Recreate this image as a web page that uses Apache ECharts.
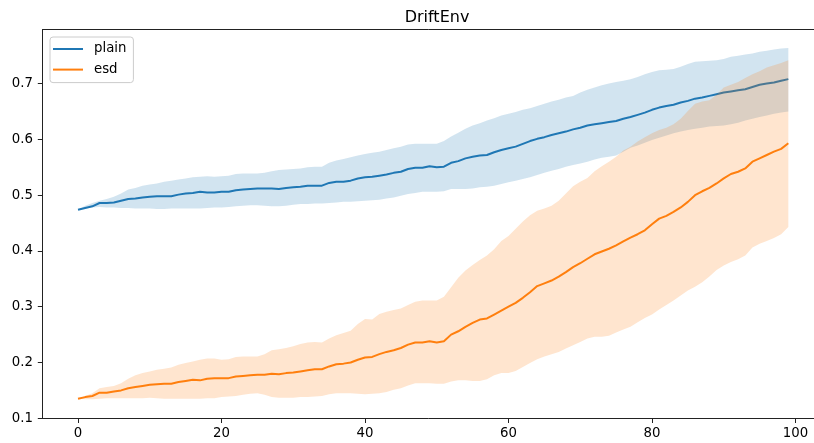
<!DOCTYPE html>
<html>
<head>
<meta charset="utf-8">
<script src="https://cdn.jsdelivr.net/npm/echarts@6/dist/echarts.min.js"></script>
<style>
html,body{margin:0;padding:0;background:#fff;}
#chart{width:814px;height:443px;}
</style>
</head>
<body>
<div id="chart"></div>
<script>
const titleText = "DriftEnv";
const seriesNames = ["plain", "esd"];
const xTicks = [0, 20, 40, 60, 80, 100];
const yTicks = [0.1, 0.2, 0.3, 0.4, 0.5, 0.6, 0.7];

const plainMean = [0.474,0.477,0.480,0.486,0.486,0.487,0.490,0.493,0.494,0.496,
0.497,0.498,0.498,0.498,0.501,0.503,0.504,0.506,0.505,0.505,
0.506,0.506,0.509,0.510,0.511,0.512,0.512,0.512,0.511,0.513,
0.514,0.515,0.517,0.517,0.517,0.522,0.524,0.524,0.526,0.530,
0.532,0.533,0.535,0.537,0.540,0.542,0.547,0.549,0.549,0.552,
0.550,0.551,0.558,0.561,0.566,0.569,0.571,0.572,0.577,0.581,
0.584,0.587,0.592,0.597,0.601,0.604,0.608,0.611,0.614,0.618,
0.621,0.625,0.627,0.629,0.631,0.633,0.637,0.640,0.644,0.648,
0.653,0.657,0.660,0.662,0.666,0.669,0.673,0.675,0.678,0.681,
0.684,0.686,0.688,0.690,0.694,0.698,0.700,0.702,0.705,0.708];

const plainUpper = [0.474,0.481,0.486,0.490,0.493,0.497,0.503,0.510,0.513,0.517,
0.519,0.521,0.524,0.526,0.528,0.530,0.532,0.533,0.534,0.533,
0.534,0.535,0.538,0.539,0.539,0.539,0.540,0.543,0.545,0.546,
0.547,0.548,0.550,0.551,0.551,0.558,0.562,0.565,0.568,0.571,
0.574,0.576,0.578,0.581,0.584,0.587,0.591,0.592,0.592,0.592,
0.592,0.597,0.605,0.612,0.619,0.625,0.629,0.634,0.638,0.643,
0.646,0.649,0.653,0.656,0.660,0.664,0.668,0.671,0.675,0.678,
0.684,0.689,0.693,0.697,0.700,0.703,0.705,0.708,0.712,0.717,
0.721,0.724,0.725,0.726,0.730,0.735,0.739,0.740,0.741,0.742,
0.744,0.748,0.750,0.752,0.754,0.757,0.759,0.761,0.763,0.764];

const plainLower = [0.474,0.476,0.478,0.479,0.478,0.478,0.477,0.477,0.476,0.476,
0.476,0.475,0.475,0.476,0.476,0.476,0.476,0.476,0.477,0.478,
0.478,0.479,0.480,0.481,0.482,0.482,0.481,0.480,0.480,0.481,
0.483,0.484,0.484,0.485,0.485,0.486,0.487,0.488,0.488,0.489,
0.490,0.491,0.492,0.494,0.496,0.499,0.502,0.504,0.506,0.506,
0.506,0.507,0.511,0.511,0.511,0.512,0.514,0.515,0.517,0.520,
0.523,0.526,0.529,0.532,0.536,0.540,0.544,0.547,0.551,0.554,
0.557,0.560,0.564,0.567,0.569,0.571,0.578,0.585,0.589,0.594,
0.599,0.603,0.607,0.611,0.614,0.617,0.619,0.621,0.623,0.624,
0.625,0.627,0.630,0.634,0.637,0.640,0.643,0.646,0.648,0.650];

const esdMean = [0.135,0.138,0.140,0.146,0.146,0.148,0.150,0.154,0.156,0.158,
0.160,0.161,0.162,0.162,0.165,0.167,0.169,0.168,0.171,0.172,
0.172,0.172,0.175,0.176,0.177,0.178,0.178,0.180,0.179,0.181,
0.182,0.184,0.186,0.188,0.188,0.193,0.197,0.198,0.200,0.205,
0.209,0.210,0.215,0.219,0.222,0.226,0.232,0.236,0.236,0.238,
0.236,0.238,0.250,0.256,0.264,0.271,0.277,0.279,0.286,0.293,
0.300,0.307,0.316,0.326,0.337,0.342,0.347,0.354,0.362,0.371,
0.378,0.386,0.394,0.399,0.404,0.410,0.417,0.424,0.430,0.437,
0.448,0.458,0.463,0.470,0.478,0.488,0.500,0.507,0.513,0.521,
0.530,0.538,0.542,0.548,0.560,0.566,0.572,0.578,0.583,0.593];

const esdUpper = [0.135,0.140,0.145,0.154,0.156,0.158,0.163,0.171,0.177,0.181,
0.184,0.187,0.189,0.191,0.196,0.199,0.202,0.205,0.207,0.207,
0.205,0.206,0.210,0.211,0.211,0.211,0.215,0.222,0.224,0.226,
0.229,0.233,0.236,0.237,0.236,0.243,0.249,0.253,0.257,0.269,
0.278,0.277,0.287,0.291,0.294,0.297,0.303,0.309,0.311,0.311,
0.311,0.318,0.335,0.352,0.365,0.375,0.384,0.392,0.403,0.418,
0.427,0.440,0.453,0.464,0.472,0.476,0.481,0.490,0.503,0.516,
0.524,0.531,0.543,0.552,0.560,0.569,0.580,0.587,0.596,0.604,
0.611,0.617,0.621,0.627,0.637,0.651,0.664,0.668,0.670,0.680,
0.693,0.698,0.703,0.710,0.717,0.722,0.729,0.733,0.737,0.742];

const esdLower = [0.135,0.134,0.134,0.135,0.136,0.136,0.136,0.136,0.136,0.136,
0.137,0.136,0.135,0.135,0.135,0.135,0.135,0.135,0.136,0.136,
0.138,0.139,0.140,0.142,0.144,0.145,0.142,0.138,0.137,0.137,
0.137,0.138,0.138,0.139,0.140,0.143,0.145,0.145,0.145,0.144,
0.143,0.144,0.145,0.147,0.151,0.154,0.159,0.163,0.163,0.163,
0.162,0.162,0.166,0.168,0.168,0.167,0.167,0.170,0.177,0.181,
0.181,0.185,0.192,0.199,0.206,0.211,0.215,0.219,0.225,0.231,
0.237,0.243,0.246,0.246,0.248,0.254,0.259,0.264,0.272,0.280,
0.286,0.295,0.303,0.311,0.320,0.329,0.336,0.344,0.354,0.366,
0.374,0.380,0.385,0.392,0.406,0.413,0.418,0.423,0.430,0.443];

const steps = plainMean.map((_, i) => i);

const BLUE = '#1f77b4';
const ORANGE = '#ff7f0e';
const FONT = 'DejaVu Sans';
const X_MIN = -4.95;
const X_MAX = 102.58;

function bandSeries(name, lower, upper, fill, z) {
  return {
    name: name,
    type: 'custom',
    z: z,
    silent: true,
    clip: false,
    data: [[0, lower[0]]],
    encode: { x: 0, y: 1 },
    renderItem: function (params, api) {
      const pts = [];
      for (let i = 0; i < steps.length; i++) pts.push(api.coord([steps[i], upper[i]]));
      for (let i = steps.length - 1; i >= 0; i--) pts.push(api.coord([steps[i], lower[i]]));
      return {
        type: 'polygon',
        shape: { points: pts },
        style: { fill: fill, stroke: null }
      };
    }
  };
}

function lineSeries(name, vals, color, z) {
  return {
    name: name,
    type: 'line',
    z: z,
    data: steps.map((x, i) => [x, vals[i]]),
    showSymbol: false,
    symbol: 'none',
    color: color,
    lineStyle: { color: color, width: 2 },
    emphasis: { disabled: true },
    animation: false
  };
}

const chart = echarts.init(document.getElementById('chart'), null, { renderer: 'canvas' });
chart.setOption({
  animation: false,
  backgroundColor: '#fff',
  textStyle: { fontFamily: FONT },
  title: {
    text: titleText,
    left: 432,
    textAlign: 'center',
    top: 5,
    textStyle: { fontFamily: FONT, fontSize: 16, fontWeight: 'normal', color: '#000' }
  },
  legend: {
    data: seriesNames,
    orient: 'vertical',
    left: 50,
    top: 37,
    padding: [5, 7, 6, 3],
    itemGap: 6.6,
    itemWidth: 30,
    itemHeight: 2,
    icon: 'rect',
    backgroundColor: 'rgba(255,255,255,0.8)',
    borderColor: '#cccccc',
    borderWidth: 1,
    borderRadius: 3,
    textStyle: { fontFamily: FONT, fontSize: 13.3, color: '#000', lineHeight: 14, padding: [0, 0, 0, 6] }
  },
  grid: {
    left: 42.5,
    top: 29.5,
    right: 0,
    height: 388.8,
    show: false
  },
  xAxis: [{
    type: 'value',
    position: 'bottom',
    min: X_MIN,
    max: X_MAX,
    splitLine: { show: false },
    axisLine: { show: true, onZero: false, lineStyle: { color: '#222', width: 1 } },
    axisTick: { show: true, length: 4.7, lineStyle: { color: '#222' }, customValues: xTicks },
    axisLabel: { customValues: xTicks, margin: 9, fontFamily: FONT, fontSize: 13.3, color: '#000' }
  }, {
    type: 'value',
    position: 'top',
    min: X_MIN,
    max: X_MAX,
    splitLine: { show: false },
    axisLine: { show: true, onZero: false, lineStyle: { color: '#222', width: 1 } },
    axisTick: { show: false },
    axisLabel: { show: false }
  }],
  yAxis: {
    type: 'value',
    min: 0.1,
    max: 0.797,
    splitLine: { show: false },
    axisLine: { show: true, onZero: false, lineStyle: { color: '#222', width: 1 } },
    axisTick: { show: true, length: 4.7, lineStyle: { color: '#222' }, customValues: yTicks },
    axisLabel: {
      customValues: yTicks, margin: 9.5, fontFamily: FONT, fontSize: 13.3, color: '#000',
      formatter: function (v) { return (+v).toFixed(1); }
    }
  },
  series: [
    bandSeries('plain band', plainLower, plainUpper, 'rgba(31,119,180,0.2)', 1),
    lineSeries('plain', plainMean, BLUE, 2),
    bandSeries('esd band', esdLower, esdUpper, 'rgba(255,127,14,0.2)', 3),
    lineSeries('esd', esdMean, ORANGE, 4)
  ]
});
</script>
</body>
</html>
